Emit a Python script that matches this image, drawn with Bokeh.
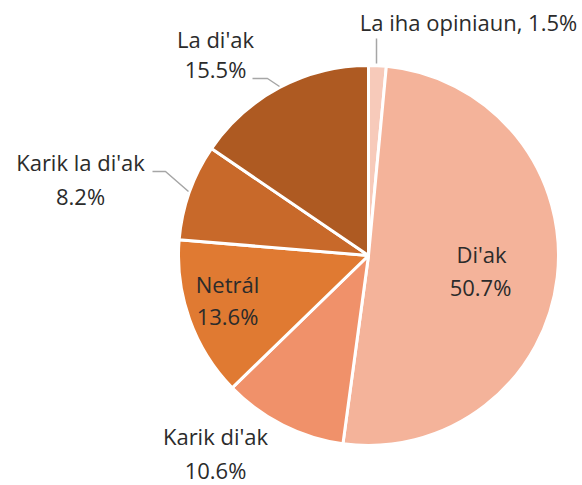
import math
from bokeh.plotting import figure
from bokeh.models import Range1d
from bokeh.core.properties import value
from bokeh.embed import file_html
from bokeh.resources import INLINE

# Data
categories = ["La iha opiniaun", "Di'ak", "Karik di'ak", "Netrál", "Karik la di'ak", "La di'ak"]
percents = [1.5, 50.7, 10.6, 13.6, 8.2, 15.5]
colors = ["#F7CABA", "#F4B39A", "#F0916A", "#E07A32", "#C8692A", "#AE5A22"]

W, H = 582, 485
p = figure(width=W, height=H, output_backend="svg", toolbar_location=None,
           x_range=Range1d(0, 582), y_range=Range1d(0, 485), min_border=0)
p.axis.visible = False
p.grid.visible = False
p.outline_line_color = None

def Y(py):
    return 485 - py

cx, cy, r = 368, Y(255), 190
total = sum(percents)
starts, ends = [], []
c = 0.0
for v in percents:
    starts.append(math.pi / 2 - 2 * math.pi * c / total)
    c += v
    ends.append(math.pi / 2 - 2 * math.pi * c / total)

p.wedge(x=[cx] * len(percents), y=[cy] * len(percents), radius=r,
        start_angle=starts, end_angle=ends, direction="clock",
        fill_color=colors, line_color="white", line_width=3)

font = value("Open Sans")
tc = "#2B2B2B"
fs = "22px"

def lbl(x, py, text, align="center"):
    p.text(x=[x], y=[Y(py)], text=[text], text_font=font, text_font_size=fs,
           text_color=tc, text_align=align, text_baseline="middle")

lab = [f"{v}%" for v in percents]
# La iha opiniaun
lbl(468, 21, f"{categories[0]}, {lab[0]}")
# Di'ak
lbl(481, 253, categories[1]); lbl(480, 286, lab[1])
# Karik di'ak
lbl(215, 435, categories[2]); lbl(215, 469, lab[2])
# Netral
lbl(227, 283, categories[3]); lbl(227, 315, lab[3])
# Karik la di'ak
lbl(80, 161, categories[4]); lbl(80, 195, lab[4])
# La di'ak
lbl(215, 38, categories[5]); lbl(215, 68, lab[5])

lc = "#A6A6A6"
p.line(x=[376, 376], y=[Y(38), Y(63)], line_color=lc, line_width=1.5)
p.line(x=[252, 267, 279], y=[Y(78), Y(78), Y(86)], line_color=lc, line_width=1.5)
p.line(x=[152, 165, 188], y=[Y(171), Y(171), Y(191)], line_color=lc, line_width=1.5)

open("out.html", "w").write(file_html(p, INLINE))
